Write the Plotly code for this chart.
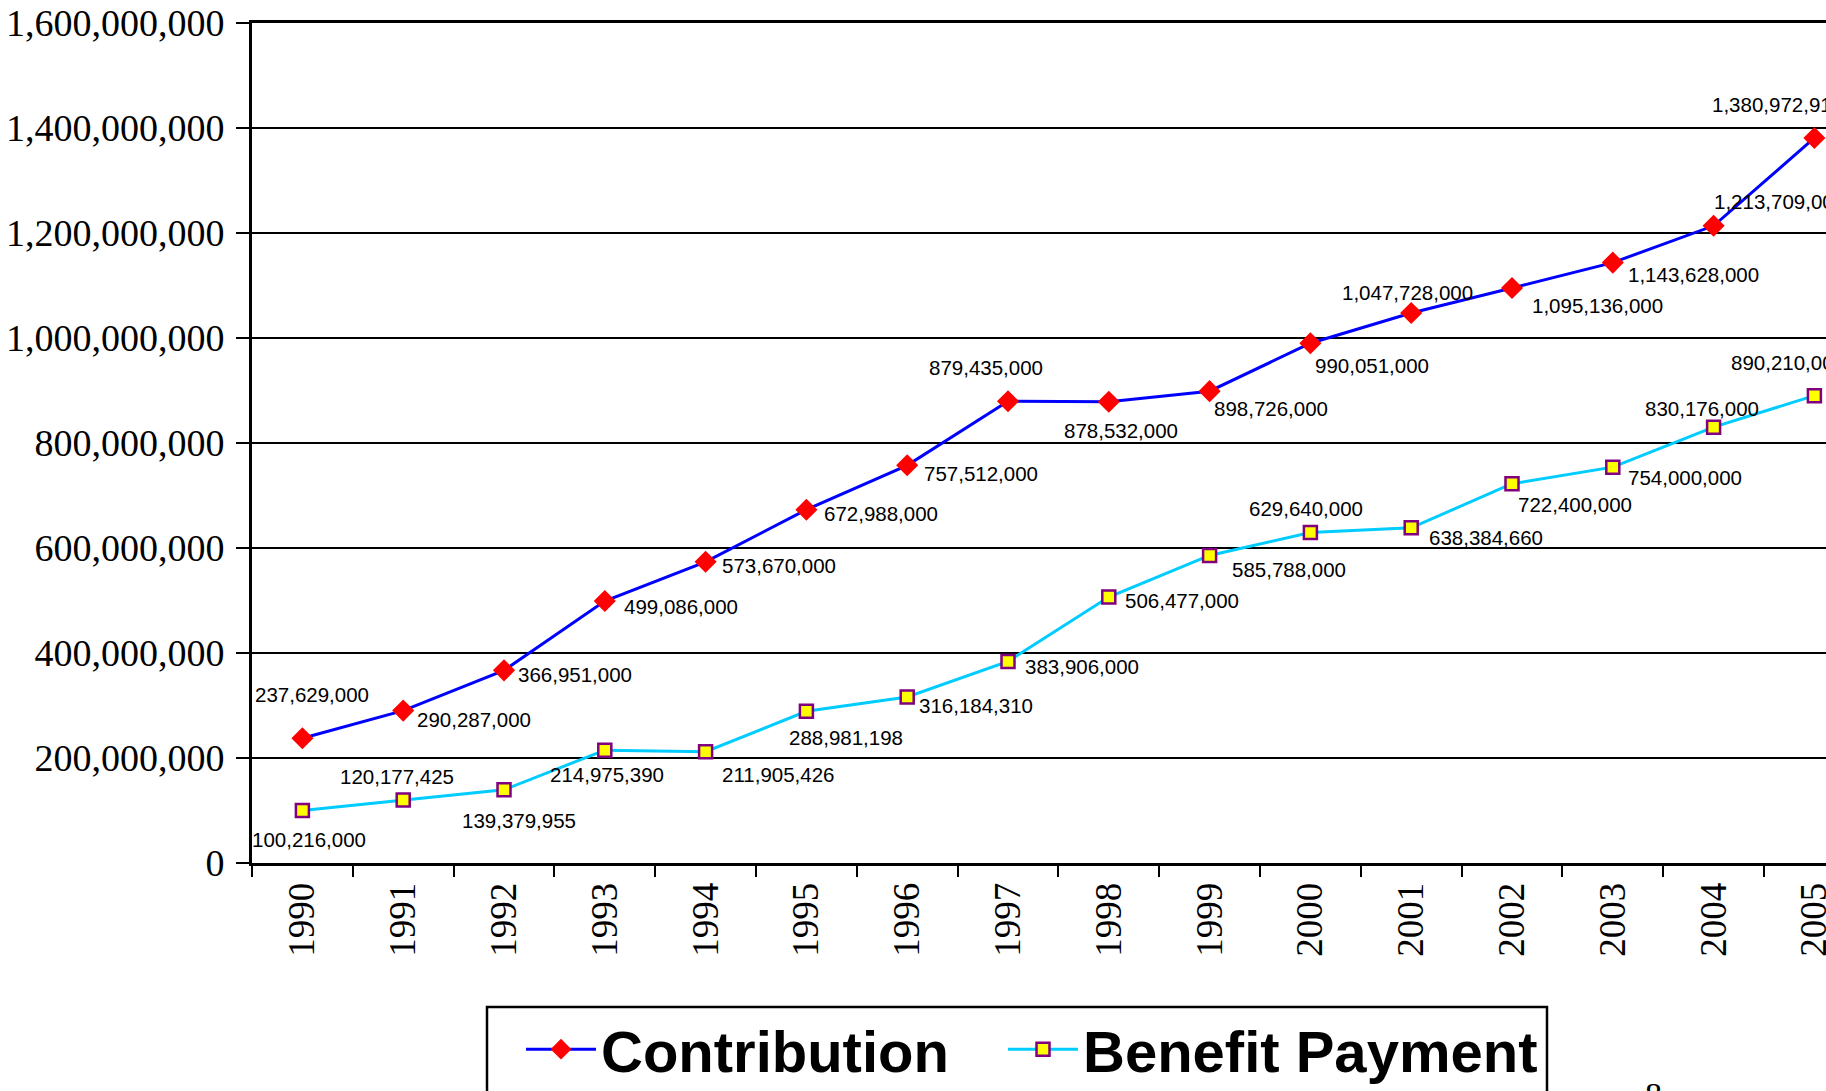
import plotly.graph_objects as go

years = ["1990", "1991", "1992", "1993", "1994", "1995", "1996", "1997",
         "1998", "1999", "2000", "2001", "2002", "2003", "2004", "2005"]

contribution = [237629000, 290287000, 366951000, 499086000, 573670000,
                672988000, 757512000, 879435000, 878532000, 898726000,
                990051000, 1047728000, 1095136000, 1143628000, 1213709000,
                1380972917]

benefit_payment = [100216000, 120177425, 139379955, 214975390, 211905426,
                   288981198, 316184310, 383906000, 506477000, 585788000,
                   629640000, 638384660, 722400000, 754000000, 830176000,
                   890210000]

y_ticks = [0, 200000000, 400000000, 600000000, 800000000,
           1000000000, 1200000000, 1400000000, 1600000000]

# label placement (anchor, dx px, dy px downward) - styling only
contrib_label_pos = [("center", 10, -44), ("left", 12, 9), ("left", 12, 4), ("left", 17, 6),
                     ("left", 14, 4), ("left", 16, 4), ("left", 15, 8), ("center", -22, -34),
                     ("center", 12, 29), ("left", 2, 17), ("left", 3, 22), ("center", -4, -20),
                     ("left", 18, 17), ("left", 13, 12), ("left", -2, -24), ("left", -104, -33)]
benefit_label_pos = [("center", 7, 29), ("center", -6, -23), ("center", 15, 31), ("center", 2, 24),
                     ("left", 14, 23), ("center", 40, 26), ("left", 10, 8), ("left", 15, 5),
                     ("left", 14, 3), ("left", 20, 14), ("center", -4, -24), ("left", 16, 10),
                     ("left", 4, 21), ("left", 13, 10), ("center", -12, -19), ("left", -85, -33)]

W, H = 1826, 1091
L, T, B = 252, 23, 228
plot_w = W - L
plot_h = H - T - B
cat_w = 100.8
x_end = -0.5 + plot_w / cat_w

def px_to_paper_x(px):
    return (px - L) / plot_w

def px_to_paper_y(py):
    return (H - B - py) / plot_h

fig = go.Figure()
fig.add_trace(go.Scatter(
    x=years, y=contribution, name="Contribution", mode="lines+markers",
    line=dict(color="#0000FF", width=3),
    marker=dict(symbol="diamond", size=17, color="#FF0000", line=dict(width=0)),
    cliponaxis=False, legendwidth=397,
))
fig.add_trace(go.Scatter(
    x=years, y=benefit_payment, name="Benefit Payment", mode="lines+markers",
    line=dict(color="#00CCFF", width=3),
    marker=dict(symbol="square", size=13, color="#FFFF00", line=dict(width=2.5, color="#800080")),
    cliponaxis=False, legendwidth=480,
))

label_font = dict(family="Liberation Sans, Arial, sans-serif", size=20.5, color="#000000")
annotations = []
for series, positions in ((contribution, contrib_label_pos), (benefit_payment, benefit_label_pos)):
    for idx, (val, (anc, dx, dy)) in enumerate(zip(series, positions)):
        annotations.append(dict(
            x=idx, y=val, xref="x", yref="y", text=f"{val:,}", showarrow=False,
            xanchor=anc, yanchor="middle", xshift=dx, yshift=-dy, font=label_font,
        ))

# page number
annotations.append(dict(
    x=px_to_paper_x(1653), y=px_to_paper_y(1074), xref="paper", yref="paper",
    text="8", showarrow=False, xanchor="center", yanchor="top",
    font=dict(family="Liberation Serif, Times New Roman, serif", size=34, color="#000000"),
))

fig.update_layout(
    width=W, height=H,
    margin=dict(l=L, r=0, t=T, b=B, autoexpand=False),
    paper_bgcolor="white", plot_bgcolor="white",
    showlegend=True,
    legend=dict(
        orientation="h", x=px_to_paper_x(521), y=px_to_paper_y(1005),
        xanchor="left", yanchor="top", bgcolor="rgba(0,0,0,0)", borderwidth=0,
        itemwidth=70,
        font=dict(family="Liberation Sans, Arial, sans-serif",
                  size=58, color="#000000", weight="bold"),
    ),
    annotations=annotations,
    shapes=[dict(
        type="rect", xref="paper", yref="paper",
        x0=px_to_paper_x(487), x1=px_to_paper_x(1547),
        y0=px_to_paper_y(1007), y1=px_to_paper_y(1130),
        line=dict(color="#000000", width=2.5), fillcolor="rgba(0,0,0,0)", layer="above",
    )],
    xaxis=dict(
        type="category", range=[-0.5, x_end],
        showline=True, linecolor="#000000", linewidth=3, mirror=True,
        ticks="outside", ticklen=11, tickwidth=2, tickcolor="#000000",
        tickson="boundaries", showgrid=False, tickangle=-90,
        ticklabelstandoff=2,
        tickfont=dict(family="Liberation Serif, Times New Roman, serif", size=37, color="#000000"),
    ),
    yaxis=dict(
        range=[0, 1600000000], tickvals=y_ticks, tickformat=",",
        showline=True, linecolor="#000000", linewidth=3,
        ticks="outside", ticklen=13, tickwidth=2, tickcolor="#000000",
        showgrid=True, gridcolor="#000000", gridwidth=2, zeroline=False,
        ticklabelstandoff=4,
        tickfont=dict(family="Liberation Serif, Times New Roman, serif", size=38, color="#000000"),
    ),
)

fig.write_html("out.html")
